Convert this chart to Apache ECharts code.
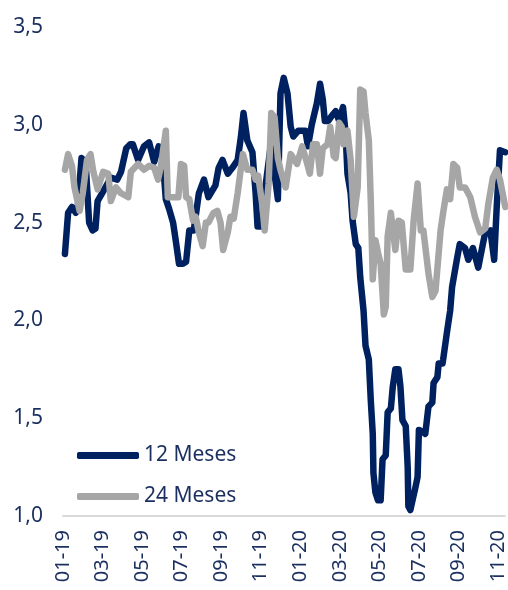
<!DOCTYPE html>
<html>
<head>
<meta charset="utf-8">
<script src="https://cdn.jsdelivr.net/npm/echarts@6/dist/echarts.min.js"></script>
<style>
  html, body { margin: 0; padding: 0; background: #fff; }
  #box { width: 508px; height: 590px; }
</style>
</head>
<body>
<div id="box"></div>
<script>
// 12 Meses
var dates12 = ['2019-01-04','2019-01-09','2019-01-15','2019-01-21','2019-01-24','2019-01-30','2019-02-05','2019-02-10','2019-02-15','2019-02-19','2019-02-22','2019-03-02','2019-03-14','2019-03-24','2019-03-30','2019-04-07','2019-04-13','2019-04-17','2019-04-25','2019-05-04','2019-05-12','2019-05-20','2019-05-27','2019-06-01','2019-06-07','2019-06-12','2019-06-18','2019-06-22','2019-06-27','2019-07-03','2019-07-08','2019-07-13','2019-07-20','2019-07-28','2019-08-05','2019-08-12','2019-08-15','2019-08-23','2019-08-28','2019-09-03','2019-09-11','2019-09-18','2019-09-26','2019-10-01','2019-10-05','2019-10-11','2019-10-19','2019-10-24','2019-10-27','2019-11-03','2019-11-08','2019-11-16','2019-11-20','2019-11-27','2019-12-01','2019-12-06','2019-12-12','2019-12-17','2019-12-21','2019-12-29','2020-01-09','2020-01-13','2020-01-19','2020-01-27','2020-02-01','2020-02-05','2020-02-08','2020-02-13','2020-02-19','2020-02-24','2020-02-29','2020-03-06','2020-03-10','2020-03-13','2020-03-18','2020-03-21','2020-03-26','2020-03-30','2020-04-02','2020-04-07','2020-04-10','2020-04-15','2020-04-18','2020-04-21','2020-04-22','2020-04-25','2020-04-29','2020-05-03','2020-05-06','2020-05-11','2020-05-14','2020-05-19','2020-05-22','2020-05-26','2020-05-31','2020-06-03','2020-06-06','2020-06-11','2020-06-14','2020-06-15','2020-06-18','2020-06-21','2020-06-26','2020-06-29','2020-07-01','2020-07-07','2020-07-11','2020-07-16','2020-07-22','2020-07-24','2020-07-30','2020-08-01','2020-08-07','2020-08-08','2020-08-14','2020-08-19','2020-08-22','2020-08-30','2020-09-03','2020-09-11','2020-09-16','2020-09-23','2020-10-01','2020-10-07','2020-10-12','2020-10-20','2020-10-26','2020-10-30','2020-11-04','2020-11-12'];
var values12 = [2.34,2.55,2.58,2.55,2.57,2.83,2.81,2.50,2.46,2.47,2.61,2.66,2.73,2.72,2.76,2.88,2.90,2.90,2.82,2.89,2.91,2.81,2.89,2.88,2.62,2.57,2.50,2.41,2.29,2.29,2.30,2.46,2.46,2.65,2.72,2.63,2.62,2.69,2.78,2.82,2.75,2.78,2.82,2.94,3.06,2.92,2.86,2.65,2.48,2.48,2.68,2.89,2.80,2.62,3.16,3.24,3.16,2.99,2.94,2.97,2.97,2.89,3.00,3.11,3.21,3.13,3.02,3.02,3.05,3.07,3.02,3.09,2.96,2.75,2.65,2.51,2.39,2.37,2.22,2.05,1.87,1.80,1.59,1.42,1.22,1.12,1.08,1.08,1.29,1.31,1.53,1.55,1.66,1.75,1.75,1.66,1.49,1.46,1.25,1.05,1.03,1.04,1.15,1.20,1.44,1.43,1.42,1.56,1.58,1.68,1.71,1.78,1.78,1.80,1.94,2.05,2.17,2.32,2.39,2.37,2.31,2.37,2.27,2.37,2.45,2.46,2.31,2.58,2.87,2.86];

// 24 Meses
var dates24 = ['2019-01-04','2019-01-09','2019-01-15','2019-01-19','2019-01-27','2019-02-01','2019-02-07','2019-02-12','2019-02-16','2019-02-22','2019-03-02','2019-03-10','2019-03-14','2019-03-22','2019-03-30','2019-04-10','2019-04-14','2019-04-25','2019-05-04','2019-05-12','2019-05-20','2019-05-26','2019-05-30','2019-06-07','2019-06-10','2019-06-18','2019-06-26','2019-06-30','2019-07-05','2019-07-08','2019-07-13','2019-07-19','2019-07-23','2019-07-28','2019-08-03','2019-08-08','2019-08-12','2019-08-20','2019-08-26','2019-08-31','2019-09-04','2019-09-11','2019-09-15','2019-09-20','2019-09-26','2019-10-01','2019-10-04','2019-10-11','2019-10-19','2019-10-24','2019-10-28','2019-11-03','2019-11-07','2019-11-13','2019-11-17','2019-11-22','2019-11-27','2019-12-01','2019-12-09','2019-12-17','2019-12-27','2020-01-04','2020-01-12','2020-01-16','2020-01-21','2020-01-27','2020-02-01','2020-02-05','2020-02-12','2020-02-16','2020-02-21','2020-02-24','2020-02-29','2020-03-04','2020-03-07','2020-03-13','2020-03-18','2020-03-23','2020-03-29','2020-04-02','2020-04-07','2020-04-10','2020-04-15','2020-04-18','2020-04-21','2020-04-25','2020-04-30','2020-05-03','2020-05-08','2020-05-11','2020-05-14','2020-05-19','2020-05-22','2020-05-26','2020-05-31','2020-06-05','2020-06-11','2020-06-18','2020-06-23','2020-06-29','2020-07-04','2020-07-08','2020-07-16','2020-07-22','2020-07-27','2020-08-04','2020-08-08','2020-08-14','2020-08-19','2020-08-24','2020-08-30','2020-09-03','2020-09-11','2020-09-19','2020-09-26','2020-10-04','2020-10-12','2020-10-17','2020-10-24','2020-10-30','2020-11-04','2020-11-12'];
var values24 = [2.77,2.85,2.79,2.68,2.56,2.65,2.82,2.85,2.76,2.67,2.76,2.75,2.61,2.68,2.65,2.63,2.76,2.80,2.77,2.79,2.78,2.72,2.78,2.97,2.63,2.63,2.63,2.80,2.79,2.63,2.62,2.51,2.53,2.45,2.38,2.50,2.50,2.55,2.56,2.50,2.36,2.45,2.53,2.52,2.65,2.78,2.85,2.77,2.77,2.72,2.74,2.60,2.46,2.70,3.06,3.04,2.83,2.77,2.68,2.85,2.80,2.89,2.80,2.75,2.90,2.90,2.75,2.88,2.90,2.99,2.84,2.83,3.01,2.99,2.90,2.97,2.82,2.53,2.68,3.18,3.17,3.06,2.92,2.61,2.21,2.41,2.33,2.29,2.03,2.07,2.43,2.55,2.55,2.36,2.51,2.50,2.26,2.26,2.51,2.70,2.46,2.46,2.24,2.12,2.15,2.46,2.55,2.67,2.62,2.80,2.78,2.68,2.68,2.63,2.53,2.45,2.47,2.60,2.73,2.77,2.72,2.58];

var yTicks = [1.0, 1.5, 2.0, 2.5, 3.0, 3.5];

var navy = '#00215f';
var grey = '#a6a6a6';
var txt = '#1a2f5f';

// months since 01-2019, so ticks fall on month starts
var toMonth = function (s) {
  var p = s.split('-').map(Number);
  var dim = new Date(p[0], p[1], 0).getDate();
  return (p[0] - 2019) * 12 + (p[1] - 1) + (p[2] - 1) / dim;
};
var pairs = function (d, v) {
  return d.map(function (x, i) { return [toMonth(x), v[i]]; });
};

var mychart = echarts.init(document.getElementById('box'));
mychart.setOption({
  animation: false,
  textStyle: { fontFamily: 'Noto Sans' },
  grid: { left: 63, right: 3, top: 27, bottom: 74 },
  legend: {
    orient: 'vertical',
    left: 72,
    top: 440,
    icon: 'roundRect',
    itemWidth: 62,
    itemHeight: 7,
    itemGap: 20,
    textStyle: { fontSize: 21, color: txt },
    data: ['12 Meses', '24 Meses']
  },
  xAxis: {
    type: 'value',
    min: 0,
    max: 22.35,
    interval: 2,
    splitLine: { show: false },
    axisTick: { show: false },
    axisLine: { show: true, lineStyle: { color: '#d9d9d9', width: 2 } },
    axisLabel: {
      rotate: 90,
      margin: 14,
      fontSize: 20,
      color: txt,
      formatter: function (v) {
        if (Math.abs(v - Math.round(v)) > 0.001 || Math.round(v) % 2) return '';
        var m = Math.round(v);
        var mm = (m % 12) + 1;
        var yy = 19 + Math.floor(m / 12);
        return (mm < 10 ? '0' : '') + mm + '-' + yy;
      }
    }
  },
  yAxis: {
    type: 'value',
    min: yTicks[0],
    max: yTicks[yTicks.length - 1],
    interval: 0.5,
    splitLine: { show: false },
    axisLine: { show: false },
    axisTick: { show: false },
    axisLabel: {
      margin: 20,
      fontSize: 21,
      color: txt,
      formatter: function (v) { return v.toFixed(1).replace('.', ','); }
    }
  },
  series: [
    {
      name: '12 Meses',
      type: 'line',
      data: pairs(dates12, values12),
      showSymbol: false,
      color: navy,
      lineStyle: { width: 6.5, color: navy, cap: 'round', join: 'round' }
    },
    {
      name: '24 Meses',
      type: 'line',
      data: pairs(dates24, values24),
      showSymbol: false,
      color: grey,
      lineStyle: { width: 6.5, color: grey, cap: 'round', join: 'round' }
    }
  ]
});
</script>
</body>
</html>
